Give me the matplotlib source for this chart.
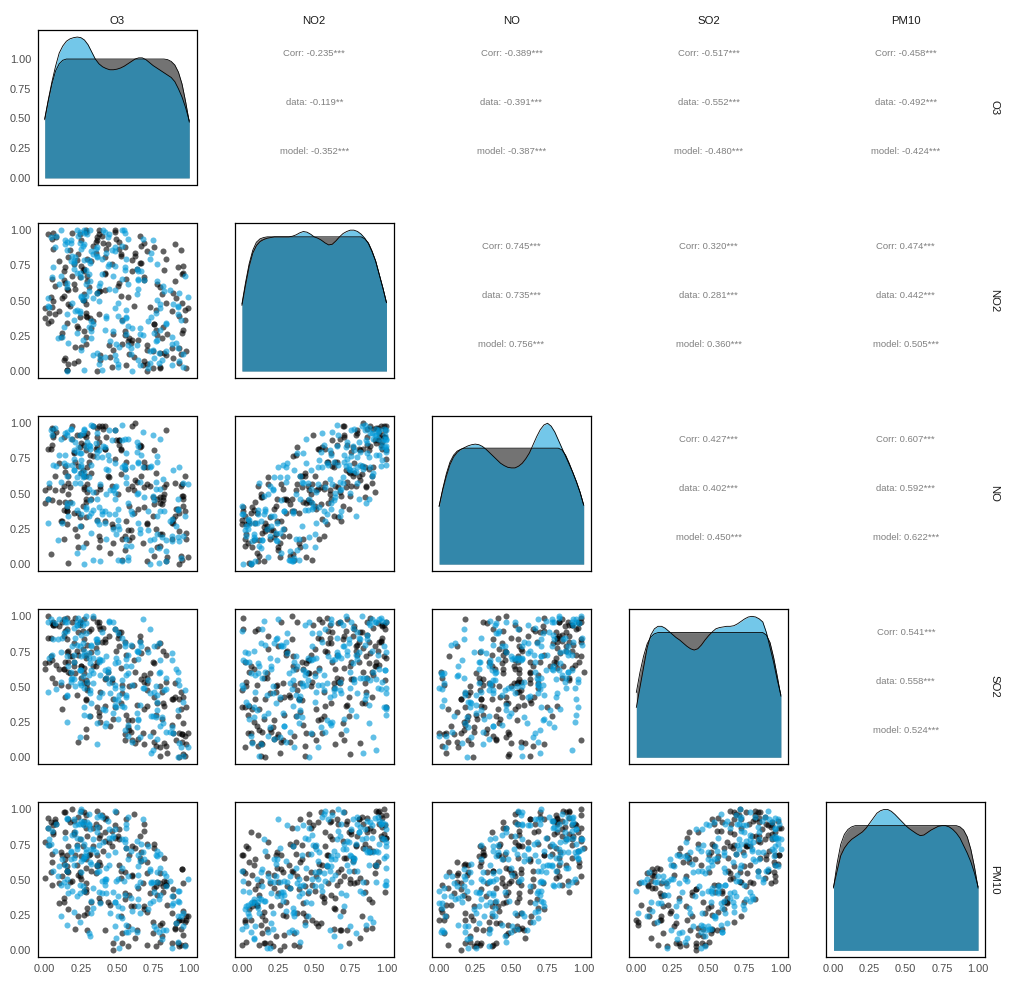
import numpy as np
import matplotlib
matplotlib.use("Agg")
import matplotlib.pyplot as plt

plt.rcParams['font.family'] = ['Liberation Sans', 'DejaVu Sans']

VARS = ["O3", "NO2", "NO", "SO2", "PM10"]

# ---------------- scatter values, group "data" (percent of range) ----------------
NO2_DATA = [12, 85, 47, 3, 66, 91, 28, 54, 7, 73, 39, 96, 18, 62, 81, 2, 44, 69, 25, 58,
            9, 77, 33, 88, 51, 15, 70, 98, 41, 23, 64, 5, 92, 36, 83, 57, 11, 49, 75, 30,
            99, 21, 60, 43, 1, 87, 34, 68, 14, 79, 52, 26, 94, 8, 71, 38, 84, 17, 63, 46,
            31, 74, 4, 56, 90, 22, 67, 42, 97, 13, 80, 48, 19, 86, 35, 61, 6, 93, 27, 72,
            45, 0, 78, 29, 95, 53, 16, 65, 82, 37, 10, 59, 89, 24, 50, 76, 40, 2, 70, 99,
            55, 32, 97, 14, 68, 86, 5, 44, 79, 20, 92, 38, 11, 61, 27, 74, 50, 3, 88, 66,
            17, 83, 43, 58, 95, 9, 36, 71, 24, 53, 76, 1, 63, 90, 30, 47, 84, 15, 57, 98,
            34, 69, 22, 81, 6, 54, 93, 40, 12, 78, 62, 28, 87, 45, 73, 19, 99, 35, 8, 59,
            4, 91, 52, 26, 65, 82, 13, 96, 42, 70, 85, 46, 16, 75, 39, 2, 60, 29, 94, 51,
            23, 67, 80, 10, 56, 33, 89, 48, 72, 7, 96, 41, 25, 64, 18, 77, 37, 86, 0, 55]
NO_DATA = [17, 55, 49, 21, 54, 51, 53, 54, 40, 65, 36, 81, 56, 69, 59, 13, 43, 97, 10, 72,
           29, 71, 6, 97, 52, 2, 97, 94, 54, 21, 55, 29, 96, 3, 99, 57, 2, 91, 55, 36,
           74, 24, 49, 62, 37, 80, 46, 30, 22, 92, 53, 5, 89, 38, 66, 82, 68, 27, 34, 44,
           45, 64, 30, 20, 95, 19, 88, 18, 89, 47, 62, 56, 18, 89, 7, 78, 0, 96, 56, 58,
           55, 31, 55, 25, 97, 18, 23, 84, 69, 77, 8, 72, 57, 46, 41, 82, 12, 18, 91, 80,
           82, 20, 97, 47, 48, 95, 1, 5, 94, 24, 85, 56, 55, 46, 30, 48, 62, 28, 83, 33,
           25, 81, 64, 28, 84, 44, 37, 54, 30, 81, 62, 40, 68, 68, 46, 44, 47, 26, 81, 89,
           37, 41, 39, 80, 36, 42, 87, 62, 6, 91, 87, 20, 67, 45, 39, 33, 97, 76, 17, 43,
           15, 87, 81, 15, 72, 63, 49, 86, 44, 89, 54, 52, 29, 79, 15, 34, 52, 46, 93, 39,
           41, 51, 81, 36, 53, 42, 62, 3, 84, 12, 91, 62, 12, 72, 61, 64, 52, 84, 28, 32]
PM10_DATA = [39, 15, 55, 6, 89, 54, 25, 97, 31, 83, 3, 93, 54, 97, 9, 54, 51, 77, 40, 67,
             43, 47, 44, 86, 52, 27, 52, 88, 74, 10, 37, 62, 59, 12, 72, 73, 46, 88, 84, 24,
             79, 3, 80, 20, 56, 72, 86, 14, 24, 80, 17, 32, 98, 34, 89, 52, 75, 66, 15, 90,
             45, 50, 72, 37, 70, 53, 49, 26, 82, 18, 92, 46, 5, 93, 55, 91, 21, 62, 57, 14,
             40, 67, 73, 3, 95, 61, 21, 46, 94, 68, 32, 67, 16, 58, 73, 65, 62, 21, 65, 95,
             60, 60, 99, 12, 57, 83, 29, 24, 48, 31, 98, 26, 81, 39, 67, 47, 42, 73, 69, 55,
             15, 89, 45, 59, 80, 64, 4, 65, 69, 56, 63, 67, 30, 84, 34, 86, 41, 5, 83, 41,
             56, 28, 44, 51, 83, 19, 97, 92, 4, 74, 78, 55, 36, 68, 5, 47, 79, 73, 60, 47,
             47, 60, 90, 0, 92, 24, 49, 87, 33, 97, 48, 96, 5, 82, 43, 20, 90, 11, 89, 19,
             67, 14, 92, 31, 34, 75, 34, 21, 91, 53, 78, 64, 48, 29, 76, 56, 76, 85, 4, 38]
SO2_DATA = [19, 46, 50, 50, 53, 64, 52, 83, 34, 42, 41, 84, 76, 67, 10, 7, 66, 83, 16, 98,
            41, 92, 11, 98, 34, 56, 12, 90, 67, 46, 62, 36, 67, 51, 60, 75, 8, 93, 55, 72,
            35, 21, 84, 1, 90, 66, 99, 55, 9, 79, 26, 3, 81, 62, 89, 95, 52, 56, 52, 59,
            75, 64, 30, 29, 91, 26, 95, 23, 93, 1, 67, 53, 45, 56, 71, 80, 17, 94, 11, 37,
            59, 35, 78, 30, 81, 97, 0, 56, 88, 29, 22, 89, 42, 14, 76, 85, 32, 35, 63, 70,
            95, 44, 71, 18, 16, 95, 60, 17, 72, 18, 64, 47, 90, 38, 95, 2, 59, 53, 73, 94,
            59, 77, 8, 74, 82, 89, 15, 36, 51, 63, 55, 98, 49, 58, 74, 72, 38, 27, 36, 54,
            83, 24, 13, 88, 64, 27, 75, 52, 34, 75, 88, 12, 81, 68, 29, 20, 95, 64, 25, 80,
            17, 78, 84, 41, 72, 38, 10, 92, 62, 85, 71, 68, 41, 67, 41, 67, 93, 42, 65, 12,
            50, 52, 81, 51, 46, 42, 60, 16, 97, 11, 93, 40, 78, 9, 85, 90, 62, 86, 47, 17]
O3_DATA = [58, 93, 16, 79, 68, 35, 27, 27, 68, 14, 92, 2, 70, 14, 62, 79, 0, 41, 55, 21,
           88, 10, 75, 33, 12, 70, 60, 48, 3, 80, 13, 70, 36, 53, 62, 16, 83, 6, 46, 23,
           48, 57, 50, 96, 15, 75, 2, 41, 97, 29, 57, 84, 36, 13, 26, 24, 70, 25, 89, 17,
           81, 25, 56, 37, 40, 60, 19, 87, 6, 79, 16, 83, 53, 42, 4, 20, 92, 5, 94, 63,
           72, 36, 60, 76, 39, 13, 92, 5, 23, 31, 45, 30, 89, 28, 26, 65, 37, 97, 27, 28,
           36, 22, 19, 74, 94, 6, 16, 98, 83, 59, 25, 29, 38, 77, 12, 95, 27, 46, 66, 24,
           21, 35, 76, 15, 65, 14, 96, 82, 11, 52, 66, 15, 29, 68, 32, 28, 81, 47, 41, 28,
           15, 95, 64, 52, 20, 80, 49, 7, 93, 22, 51, 55, 55, 5, 91, 28, 37, 33, 38, 79,
           67, 51, 4, 47, 56, 52, 82, 37, 10, 13, 17, 61, 87, 20, 28, 74, 7, 95, 8, 90,
           58, 29, 41, 61, 38, 75, 43, 94, 27, 23, 24, 28, 77, 68, 44, 32, 0, 51, 70, 88]

# ---------------- scatter values, group "model" (percent of range) ----------------
NO2_MODEL = [7, 63, 88, 31, 45, 95, 19, 72, 50, 2, 81, 26, 57, 99, 13, 40, 68, 35, 92, 77,
             4, 48, 85, 22, 60, 10, 97, 74, 38, 53, 90, 16, 42, 67, 29, 83, 55, 1, 71, 46,
             24, 99, 8, 79, 37, 62, 14, 87, 44, 69, 58, 33, 93, 3, 76, 20, 51, 98, 28, 65,
             12, 84, 41, 70, 96, 6, 61, 36, 80, 23, 47, 0, 74, 89, 18, 55, 32, 66, 94, 9,
             73, 39, 21, 59, 86, 43, 99, 15, 52, 78, 30, 91, 64, 11, 49, 82, 26, 70, 5, 38,
             95, 17, 54, 35, 75, 1, 88, 45, 62, 27, 40, 68, 13, 97, 22, 79, 56, 9, 84, 34,
             66, 3, 90, 48, 60, 25, 73, 99, 18, 51, 14, 77, 37, 83, 5, 93, 42, 61, 29, 87,
             52, 24, 99, 16, 69, 36, 81, 8, 57, 72, 86, 44, 27, 63, 0, 58, 20, 92, 39, 75,
             21, 96, 65, 43, 85, 11, 50, 31, 78, 98, 61, 8, 80, 28, 47, 71, 4, 67, 94, 33,
             35, 89, 19, 56, 99, 41, 76, 23, 12, 64, 79, 53, 6, 92, 30, 67, 87, 15, 46, 99]
NO_MODEL = [16, 45, 92, 61, 38, 69, 20, 86, 12, 24, 70, 61, 54, 79, 30, 46, 37, 37, 77, 95,
            32, 43, 43, 34, 60, 29, 88, 50, 78, 40, 88, 39, 57, 34, 37, 67, 92, 0, 82, 19,
            29, 70, 29, 75, 18, 93, 17, 75, 88, 61, 71, 3, 93, 27, 66, 27, 29, 82, 25, 98,
            13, 94, 27, 72, 73, 0, 77, 4, 86, 22, 66, 41, 66, 92, 5, 68, 3, 91, 77, 18,
            67, 18, 53, 70, 85, 13, 87, 35, 56, 34, 68, 91, 47, 38, 40, 97, 22, 77, 28, 10,
            82, 25, 79, 2, 76, 35, 68, 57, 56, 45, 62, 53, 11, 95, 61, 68, 84, 2, 98, 2,
            70, 20, 64, 39, 80, 68, 70, 81, 49, 51, 17, 80, 49, 69, 31, 88, 78, 39, 37, 96,
            68, 16, 94, 37, 57, 66, 79, 19, 30, 74, 78, 71, 8, 72, 35, 35, 34, 91, 3, 94,
            52, 86, 83, 38, 87, 35, 21, 71, 65, 91, 43, 21, 46, 70, 53, 69, 25, 52, 94, 9,
            36, 62, 55, 37, 88, 58, 83, 17, 57, 50, 57, 73, 1, 95, 58, 58, 46, 48, 46, 83]
PM10_MODEL = [34, 10, 90, 88, 24, 89, 2, 77, 45, 29, 42, 72, 98, 73, 55, 6, 40, 73, 60, 64,
              32, 81, 18, 48, 14, 50, 78, 17, 86, 69, 69, 35, 88, 3, 49, 40, 94, 42, 71, 42,
              64, 49, 36, 94, 13, 50, 45, 60, 58, 71, 59, 44, 69, 31, 92, 19, 74, 46, 41, 78,
              37, 85, 40, 31, 79, 33, 59, 24, 83, 61, 33, 56, 67, 79, 52, 42, 13, 84, 91, 17,
              76, 50, 15, 92, 69, 18, 58, 78, 50, 12, 28, 93, 64, 30, 74, 78, 48, 75, 41, 47,
              89, 2, 45, 30, 66, 49, 23, 78, 95, 41, 45, 89, 36, 65, 64, 56, 96, 33, 71, 14,
              99, 17, 20, 50, 56, 92, 56, 85, 13, 71, 57, 65, 58, 48, 24, 94, 46, 66, 39, 70,
              63, 38, 66, 70, 97, 27, 87, 8, 49, 60, 91, 34, 38, 70, 15, 60, 40, 48, 38, 85,
              26, 90, 67, 79, 79, 34, 55, 48, 75, 89, 64, 9, 83, 35, 68, 39, 26, 80, 75, 52,
              26, 88, 49, 54, 46, 67, 62, 52, 26, 53, 89, 55, 13, 70, 63, 24, 69, 35, 86, 76]
SO2_MODEL = [10, 47, 93, 73, 54, 48, 21, 75, 57, 74, 56, 42, 90, 95, 9, 33, 45, 54, 95, 53,
             73, 78, 44, 13, 24, 33, 78, 49, 64, 87, 60, 60, 50, 47, 22, 56, 81, 49, 99, 0,
             84, 35, 75, 88, 44, 25, 56, 24, 60, 93, 26, 52, 49, 67, 91, 62, 46, 61, 31, 84,
             64, 41, 52, 27, 96, 15, 97, 7, 84, 38, 17, 89, 60, 97, 15, 51, 59, 72, 62, 46,
             80, 24, 50, 71, 83, 58, 49, 96, 7, 29, 11, 95, 49, 59, 69, 99, 14, 78, 67, 29,
             98, 44, 21, 36, 33, 68, 54, 70, 68, 78, 43, 70, 80, 35, 80, 45, 58, 58, 79, 48,
             71, 39, 14, 87, 42, 97, 83, 45, 31, 70, 90, 55, 71, 3, 27, 72, 61, 94, 22, 94,
             51, 68, 30, 79, 78, 67, 83, 28, 18, 72, 86, 51, 79, 44, 51, 52, 64, 5, 40, 95,
             45, 53, 74, 93, 56, 66, 39, 87, 72, 61, 23, 35, 74, 78, 68, 19, 37, 95, 97, 18,
             61, 75, 70, 47, 74, 28, 66, 83, 1, 69, 69, 61, 59, 55, 81, 53, 37, 29, 95, 34]
O3_MODEL = [92, 31, 26, 30, 91, 8, 87, 63, 26, 71, 19, 56, 48, 22, 36, 91, 39, 71, 14, 18,
            87, 19, 15, 77, 81, 41, 55, 48, 56, 28, 18, 91, 21, 96, 41, 42, 36, 27, 28, 91,
            12, 54, 64, 39, 56, 15, 83, 36, 79, 22, 64, 33, 67, 50, 20, 90, 2, 41, 47, 53,
            59, 48, 24, 64, 44, 72, 10, 93, 21, 32, 88, 15, 43, 14, 57, 92, 57, 5, 43, 75,
            55, 42, 76, 15, 35, 56, 53, 25, 98, 30, 60, 15, 68, 33, 37, 33, 65, 66, 37, 73,
            23, 51, 63, 53, 77, 39, 53, 3, 38, 75, 15, 30, 78, 27, 26, 72, 30, 38, 32, 83,
            25, 95, 24, 50, 37, 67, 6, 31, 63, 33, 72, 20, 42, 73, 50, 57, 24, 28, 79, 7,
            25, 87, 27, 59, 24, 20, 36, 80, 86, 20, 25, 48, 22, 77, 60, 44, 16, 74, 50, 44,
            45, 29, 64, 22, 46, 48, 77, 13, 27, 24, 57, 49, 36, 32, 79, 55, 65, 47, 4, 83,
            32, 27, 49, 82, 11, 76, 31, 9, 95, 64, 56, 25, 78, 18, 65, 11, 48, 74, 2, 40]

# ---------------- diagonal densities (x = 0 .. 1, step 0.025) ----------------
DENS_O3_DATA = [0.49, 0.65, 0.79, 0.90, 0.96, 0.99, 1.0, 1.0, 1.0, 1.0, 1.0, 1.0, 1.0, 1.0,
                1.0, 1.0, 1.0, 1.0, 1.0, 1.0, 1.0, 1.0, 1.0, 1.0, 1.0, 1.0, 1.0, 1.0, 1.0,
                1.0, 1.0, 1.0, 1.0, 1.0, 0.995, 0.98, 0.95, 0.89, 0.79, 0.64, 0.47]
DENS_O3_MODEL = [0.50, 0.66, 0.81, 0.94, 1.05, 1.11, 1.15, 1.17, 1.18, 1.185, 1.18, 1.16,
                 1.12, 1.06, 1.00, 0.96, 0.935, 0.92, 0.91, 0.91, 0.915, 0.925, 0.94, 0.96,
                 0.98, 1.00, 1.01, 1.01, 0.995, 0.97, 0.945, 0.925, 0.905, 0.885, 0.865,
                 0.845, 0.81, 0.75, 0.68, 0.59, 0.48]
DENS_NO2_DATA = [0.50, 0.66, 0.80, 0.90, 0.96, 0.985, 0.995, 1.0, 1.0, 1.0, 1.0, 1.0, 1.0,
                 1.0, 1.0, 1.0, 1.0, 1.0, 1.0, 1.0, 1.0, 1.0, 1.0, 1.0, 1.0, 1.0, 1.0, 1.0,
                 1.0, 1.0, 1.0, 1.0, 1.0, 1.0, 0.985, 0.955, 0.895, 0.82, 0.72, 0.62, 0.51]
DENS_NO2_MODEL = [0.49, 0.64, 0.78, 0.88, 0.935, 0.965, 0.98, 0.99, 0.995, 1.0, 1.0, 1.0,
                  1.0, 1.0, 1.005, 1.015, 1.03, 1.04, 1.035, 1.02, 1.0, 0.99, 0.975, 0.955,
                  0.94, 0.945, 0.97, 1.0, 1.025, 1.04, 1.05, 1.05, 1.04, 1.02, 0.99, 0.95,
                  0.89, 0.82, 0.72, 0.62, 0.51]
DENS_NO_DATA = [0.50, 0.65, 0.78, 0.88, 0.94, 0.975, 0.99, 1.0, 1.0, 1.0, 1.0, 1.0, 1.0,
                1.0, 1.0, 1.0, 1.0, 1.0, 1.0, 1.0, 1.0, 1.0, 1.0, 1.0, 1.0, 1.0, 1.0, 1.0,
                1.0, 1.0, 1.0, 1.0, 1.0, 1.0, 0.985, 0.94, 0.87, 0.79, 0.71, 0.62, 0.51]
DENS_NO_MODEL = [0.50, 0.64, 0.76, 0.86, 0.925, 0.965, 0.99, 1.005, 1.02, 1.03, 1.035, 1.03,
                 1.015, 0.99, 0.96, 0.93, 0.90, 0.87, 0.85, 0.835, 0.83, 0.83, 0.845, 0.87,
                 0.91, 0.96, 1.03, 1.10, 1.16, 1.20, 1.215, 1.19, 1.14, 1.07, 1.0, 0.93,
                 0.86, 0.79, 0.71, 0.62, 0.51]
DENS_SO2_DATA = [0.52, 0.68, 0.81, 0.91, 0.965, 0.99, 1.0, 1.0, 1.0, 1.0, 1.0, 1.0, 1.0,
                 1.0, 1.0, 1.0, 1.0, 1.0, 1.0, 1.0, 1.0, 1.0, 1.0, 1.0, 1.0, 1.0, 1.0, 1.0,
                 1.0, 1.0, 1.0, 1.0, 1.0, 1.0, 1.0, 1.0, 0.98, 0.92, 0.80, 0.65, 0.49]
DENS_SO2_MODEL = [0.40, 0.56, 0.72, 0.88, 0.98, 1.03, 1.05, 1.05, 1.035, 1.01, 0.985, 0.96,
                  0.94, 0.915, 0.89, 0.87, 0.86, 0.87, 0.90, 0.94, 0.975, 1.005, 1.03, 1.04,
                  1.045, 1.05, 1.05, 1.055, 1.07, 1.09, 1.11, 1.125, 1.13, 1.125, 1.11,
                  1.085, 1.0, 0.88, 0.76, 0.62, 0.50]
DENS_PM10_DATA = [0.50, 0.70, 0.85, 0.93, 0.97, 0.99, 1.0, 1.0, 1.0, 1.0, 1.0, 1.0, 1.0,
                  1.0, 1.0, 1.0, 1.0, 1.0, 1.0, 1.0, 1.0, 1.0, 1.0, 1.0, 1.0, 1.0, 1.0, 1.0,
                  1.0, 1.0, 1.0, 1.0, 1.0, 1.0, 1.0, 0.99, 0.965, 0.91, 0.81, 0.67, 0.50]
DENS_PM10_MODEL = [0.51, 0.64, 0.76, 0.82, 0.86, 0.89, 0.91, 0.93, 0.95, 0.98, 1.02, 1.06,
                   1.10, 1.12, 1.13, 1.13, 1.115, 1.09, 1.06, 1.03, 1.0, 0.975, 0.955, 0.935,
                   0.92, 0.925, 0.945, 0.965, 0.98, 0.995, 1.0, 1.0, 0.99, 0.97, 0.94, 0.90,
                   0.84, 0.78, 0.71, 0.62, 0.51]

# ---------------- correlation labels (upper triangle, row by row) ----------------
CORR_ALL = ["-0.235", "-0.389", "-0.517", "-0.458", "0.745", "0.320", "0.474",
            "0.427", "0.607", "0.541"]
CORR_DATA = ["-0.119", "-0.391", "-0.552", "-0.492", "0.735", "0.281", "0.442",
             "0.402", "0.592", "0.558"]
CORR_MODEL = ["-0.352", "-0.387", "-0.480", "-0.424", "0.756", "0.360", "0.505",
              "0.450", "0.622", "0.524"]
STARS_ALL = ["***", "***", "***", "***", "***", "***", "***", "***", "***", "***"]
STARS_DATA = ["**", "***", "***", "***", "***", "***", "***", "***", "***", "***"]
STARS_MODEL = ["***", "***", "***", "***", "***", "***", "***", "***", "***", "***"]

TICKS = [0.0, 0.25, 0.5, 0.75, 1.0]
TICK_LABELS = ["0.00", "0.25", "0.50", "0.75", "1.00"]

# ---------------- styling ----------------
COL_DATA = "#000000"
COL_MODEL = "#0099D8"

SCAT = {
    "data": dict(zip(VARS, [O3_DATA, NO2_DATA, NO_DATA, SO2_DATA, PM10_DATA])),
    "model": dict(zip(VARS, [O3_MODEL, NO2_MODEL, NO_MODEL, SO2_MODEL, PM10_MODEL])),
}
DENS = {
    "O3": (DENS_O3_DATA, DENS_O3_MODEL),
    "NO2": (DENS_NO2_DATA, DENS_NO2_MODEL),
    "NO": (DENS_NO_DATA, DENS_NO_MODEL),
    "SO2": (DENS_SO2_DATA, DENS_SO2_MODEL),
    "PM10": (DENS_PM10_DATA, DENS_PM10_MODEL),
}
DENS_X = np.linspace(0, 1, len(DENS_O3_DATA))

W, H = 1016, 983
fig = plt.figure(figsize=(W / 100, H / 100), dpi=100)
fig.patch.set_facecolor("white")

PX_LEFT0, PX_TOP0 = 37.5, 30.0
PX_W, PX_H = 159.0, 155.0
PX_DX, PX_DY = 197.2, 193.1


def rect(i, j):
    left = PX_LEFT0 + j * PX_DX
    top = PX_TOP0 + i * PX_DY
    return [left / W, 1 - (top + PX_H) / H, PX_W / W, PX_H / H]


def style_frame(ax):
    for sp in ax.spines.values():
        sp.set_color("black")
        sp.set_linewidth(0.9)
    ax.tick_params(length=0, pad=4.5, labelsize=7.9, labelcolor="#4D4D4D")


n = len(VARS)
k = 0
for i in range(n):
    for j in range(n):
        ax = fig.add_axes(rect(i, j))
        if i < j:
            ax.set_axis_off()
            ax.set_xlim(0, 1)
            ax.set_ylim(0, 1)
            lines = [("Corr: ", CORR_ALL[k], STARS_ALL[k]),
                     ("data: ", CORR_DATA[k], STARS_DATA[k]),
                     ("model: ", CORR_MODEL[k], STARS_MODEL[k])]
            for (lab, val, st), yy in zip(lines, [0.85, 0.532, 0.215]):
                ax.text(0.5, yy, lab + val + st, ha="center", va="center",
                        fontsize=6.8, color="#808080")
            k += 1
            continue
        style_frame(ax)
        if i == j:
            v = VARS[i]
            yd, ym = np.array(DENS[v][0]), np.array(DENS[v][1])
            M = max(yd.max(), ym.max())
            ax.fill_between(DENS_X, 0, yd, color=COL_DATA, alpha=0.55, lw=0)
            ax.plot(DENS_X, yd, color="black", lw=0.6)
            ax.fill_between(DENS_X, 0, ym, color=COL_MODEL, alpha=0.55, lw=0)
            ax.plot(DENS_X, ym, color="black", lw=0.6)
            ax.set_xlim(-0.05, 1.05)
            ax.set_ylim(-0.05 * M, 1.05 * M)
        else:
            xv, yv = VARS[j], VARS[i]
            for g, c in (("data", COL_DATA), ("model", COL_MODEL)):
                x = np.array(SCAT[g][xv]) / 99.0
                y = np.array(SCAT[g][yv]) / 99.0
                ax.scatter(x, y, s=19, color=c, alpha=0.62, linewidths=0)
            ax.set_xlim(-0.05, 1.05)
            ax.set_ylim(-0.05, 1.05)
        ax.set_xticks(TICKS)
        ax.set_yticks(TICKS)
        if i == n - 1:
            ax.set_xticklabels(TICK_LABELS)
        else:
            ax.set_xticklabels([])
        if j == 0:
            ax.set_yticklabels(TICK_LABELS)
        else:
            ax.set_yticklabels([])

# strip labels
for j, v in enumerate(VARS):
    cx = (PX_LEFT0 + j * PX_DX + PX_W / 2) / W
    fig.text(cx, 1 - 20.5 / H, v, ha="center", va="center", fontsize=8.2, color="#1A1A1A")
for i, v in enumerate(VARS):
    cy = 1 - (PX_TOP0 + i * PX_DY + PX_H / 2) / H
    fig.text(994 / W, cy, v, ha="center", va="center", rotation=270,
             fontsize=8.2, color="#1A1A1A")

fig.savefig("out.png", dpi=100, facecolor="white")
